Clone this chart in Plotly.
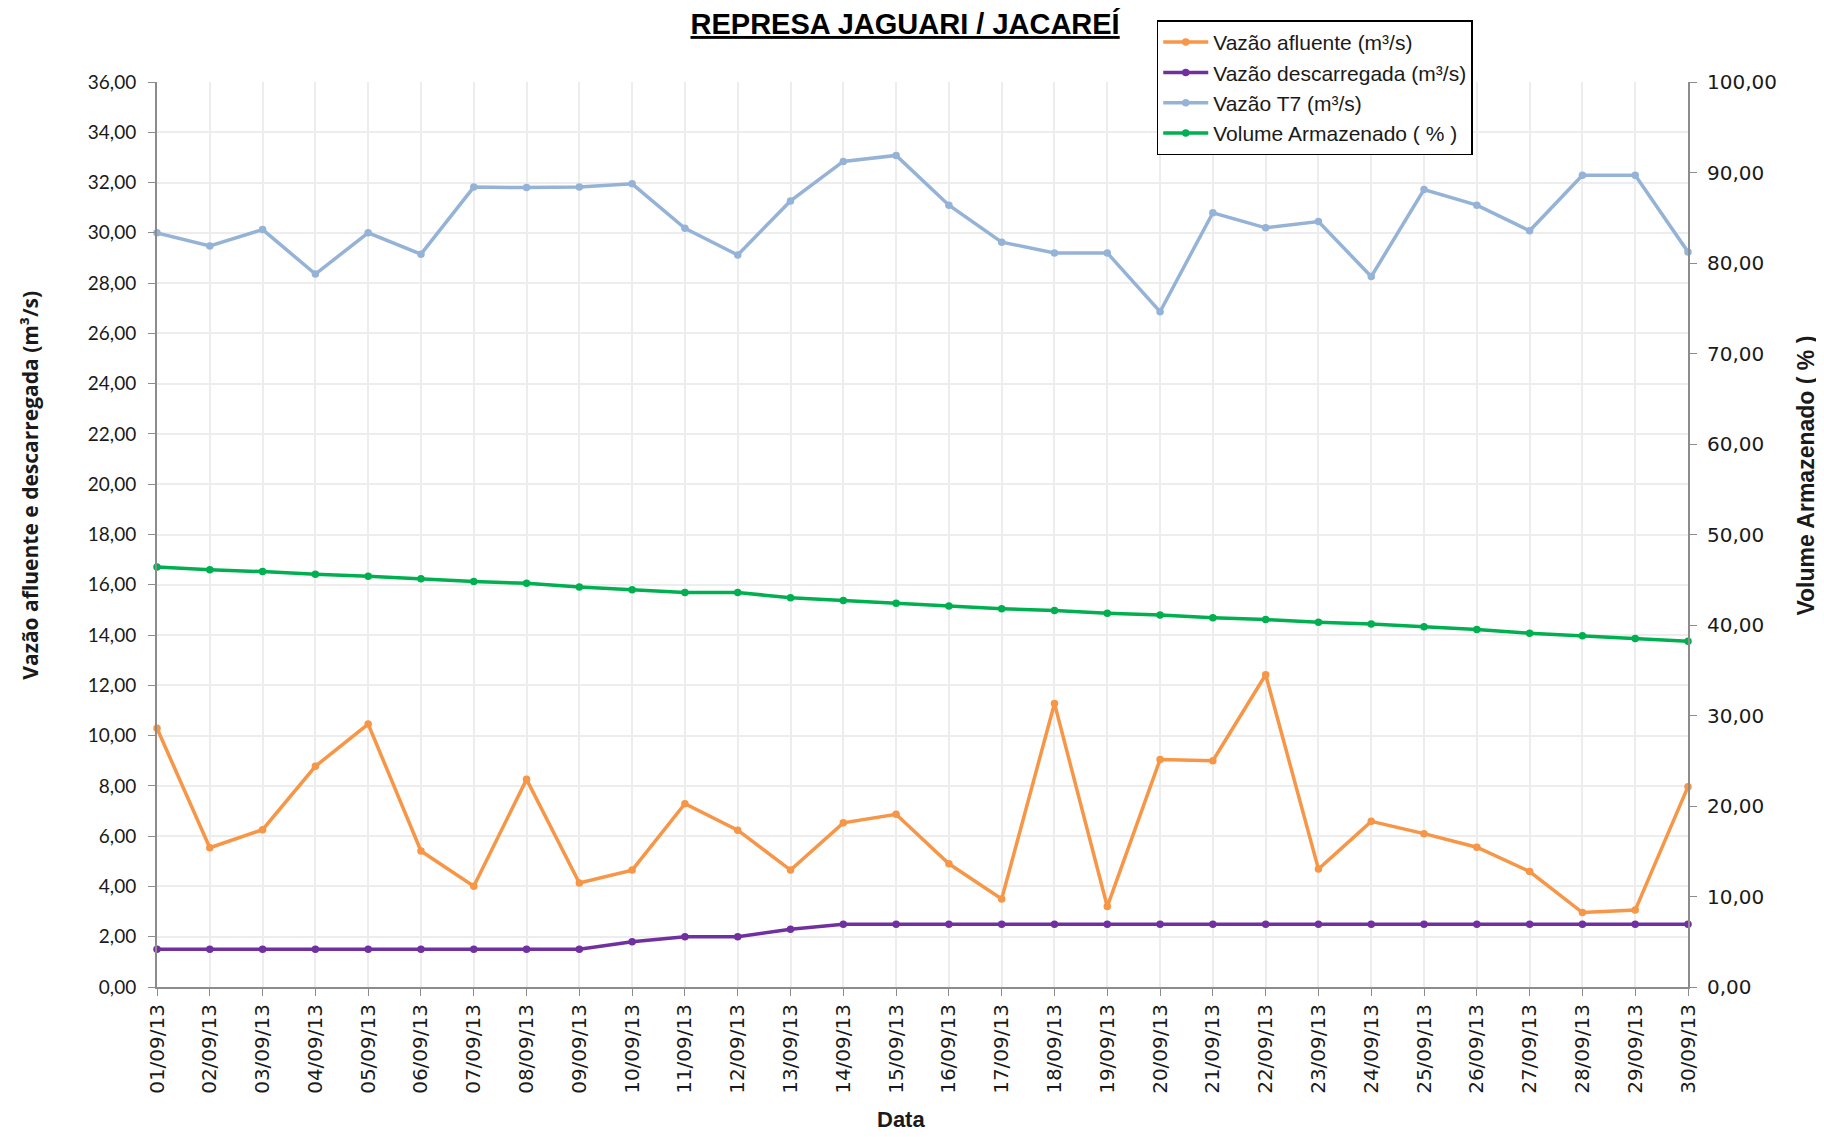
import plotly.graph_objects as go

# ── data ────────────────────────────────────────────────────────────────────
dias = [f"{d:02d}/09/13" for d in range(1, 31)]

vazao_afluente = [10.29, 5.54, 6.26, 8.78, 10.46, 5.41, 4.01, 8.26, 4.14, 4.65,
                  7.29, 6.24, 4.65, 6.53, 6.87, 4.90, 3.50, 11.28, 3.20, 9.05,
                  9.00, 12.42, 4.69, 6.59, 6.10, 5.56, 4.59, 2.96, 3.06, 7.97]

vazao_descarregada = [1.50, 1.50, 1.50, 1.50, 1.50, 1.50, 1.50, 1.50, 1.50, 1.80,
                      2.00, 2.00, 2.30, 2.50, 2.50, 2.50, 2.50, 2.50, 2.50, 2.50,
                      2.50, 2.50, 2.50, 2.50, 2.50, 2.50, 2.50, 2.50, 2.50, 2.50]

vazao_t7 = [30.00, 29.48, 30.13, 28.36, 30.00, 29.15, 31.82, 31.80, 31.82, 31.95,
            30.18, 29.12, 31.27, 32.84, 33.08, 31.10, 29.63, 29.20, 29.20, 26.86,
            30.80, 30.20, 30.45, 28.26, 31.72, 31.10, 30.08, 32.29, 32.29, 29.24]

volume_armazenado = [46.4, 46.1, 45.9, 45.6, 45.4, 45.1, 44.8, 44.6, 44.2, 43.9,
                     43.6, 43.6, 43.0, 42.7, 42.4, 42.1, 41.8, 41.6, 41.3, 41.1,
                     40.8, 40.6, 40.3, 40.1, 39.8, 39.5, 39.1, 38.8, 38.5, 38.2]

# ── style ───────────────────────────────────────────────────────────────────
_ORANGE = "#F79646"
_PURPLE = "#7030A0"
_BLUE   = "#95B3D7"
_GREEN  = "#00B050"
_AXIS   = "#8C8C8C"
_GRID   = "#EDEDED"
_TEXT   = "#1A1A1A"

_SANS = "Liberation Sans, Arial, sans-serif"
_WIDE = "DejaVu Sans, Verdana, sans-serif"

series = [
    ("Vazão afluente (m³/s)",      vazao_afluente,     _ORANGE, "y"),
    ("Vazão descarregada (m³/s)",  vazao_descarregada, _PURPLE, "y"),
    ("Vazão T7 (m³/s)",            vazao_t7,           _BLUE,   "y"),
    ("Volume Armazenado ( % )",    volume_armazenado,  _GREEN,  "y2"),
]

fig = go.Figure()
for name, vals, color, axis in series:
    fig.add_trace(go.Scatter(
        x=dias, y=vals, name=name, yaxis=axis,
        mode="lines+markers",
        line=dict(color=color, width=3.5),
        marker=dict(color=color, size=7.5),
        cliponaxis=False,
    ))

# page body has an 8px margin, so the figure is drawn 8px smaller
fig.update_layout(
    width=1816, height=1129,
    paper_bgcolor="white", plot_bgcolor="white",
    separators=",.",
    margin=dict(l=149, r=136, t=72, b=150),
    title=dict(
        text="<b><u>REPRESA JAGUARI / JACAREÍ</u></b>",
        x=0.494, xanchor="center", y=0.986, yanchor="middle",
        font=dict(family=_SANS, size=29, color="black"),
    ),
    showlegend=True,
    legend=dict(
        x=0.653, xanchor="left", y=1.068, yanchor="top",
        bgcolor="white", bordercolor="black", borderwidth=1.5,
        font=dict(family=_SANS, size=21, color=_TEXT),
        tracegroupgap=0, itemwidth=45,
    ),
    xaxis=dict(
        type="category", range=[0, 29],
        tickangle=-90,
        tickfont=dict(family=_WIDE, size=20, color=_TEXT),
        showline=True, linecolor=_AXIS, linewidth=2,
        ticks="outside", ticklen=7, tickcolor=_AXIS,
        showgrid=True, gridcolor=_GRID, gridwidth=1.5,
    ),
    yaxis=dict(
        range=[0, 36], dtick=2, tickformat=".2f",
        tickfont=dict(family="Lato, Open Sans, sans-serif", size=19, color=_TEXT),
        showline=True, linecolor=_AXIS, linewidth=2,
        ticks="outside", ticklen=7, tickcolor=_AXIS,
        ticklabelstandoff=8,
        showgrid=True, gridcolor=_GRID, gridwidth=1.5,
        zeroline=False,
    ),
    yaxis2=dict(
        overlaying="y", side="right",
        range=[0, 100], dtick=10, tickformat=".2f",
        tickfont=dict(family=_WIDE, size=20, color=_TEXT),
        showline=True, linecolor=_AXIS, linewidth=2,
        ticks="outside", ticklen=7, tickcolor=_AXIS,
        ticklabelstandoff=6,
        showgrid=False, zeroline=False,
    ),
    annotations=[
        dict(text="<b>Vazão afluente e descarregada (m³/s)</b>",
             xref="paper", yref="paper", x=-0.083, y=0.555,
             textangle=-90, showarrow=False, xanchor="center", yanchor="middle",
             font=dict(family="Open Sans, sans-serif", size=21, color=_TEXT)),
        dict(text="<b>Volume Armazenado ( % )</b>",
             xref="paper", yref="paper", x=1.077, y=0.565,
             textangle=-90, showarrow=False, xanchor="center", yanchor="middle",
             font=dict(family=_SANS, size=23, color=_TEXT)),
        dict(text="<b>Data</b>",
             xref="paper", yref="paper", x=0.486, y=-0.146,
             showarrow=False, xanchor="center", yanchor="middle",
             font=dict(family=_SANS, size=22, color=_TEXT)),
    ],
)

fig.write_html("out.html")
